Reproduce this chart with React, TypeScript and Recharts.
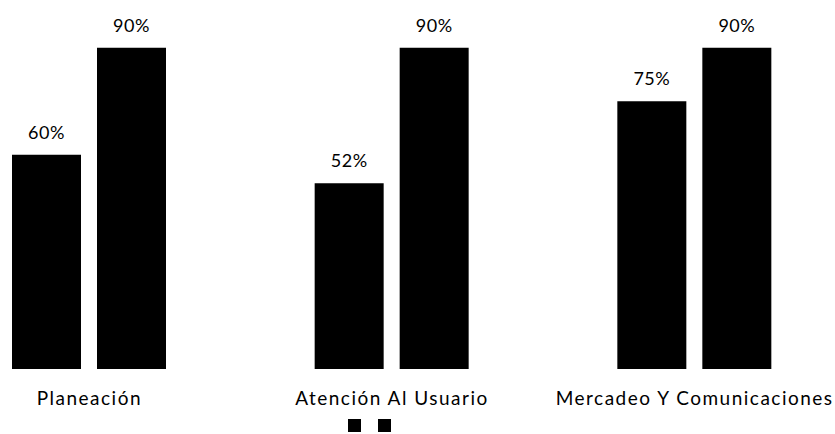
import { BarChart, Bar, XAxis, YAxis, Legend, LabelList } from 'recharts';

const categories = ['Planeación', 'Atención Al Usuario', 'Mercadeo Y Comunicaciones'];
const serieA = [60, 52, 75];
const serieB = [90, 90, 90];
const seriesNames = ['Serie 1', 'Serie 2'];

const data = categories.map((name, i) => ({ name, a: serieA[i], b: serieB[i] }));

const font = 'Lato, "Open Sans", sans-serif';

function LegendSquares({ payload }: any) {
  return (
    <div style={{ display: 'flex', gap: 17 }}>
      {(payload || []).map((p: any) => (
        <div key={p.value} style={{ width: 13, height: 13, background: p.color }} />
      ))}
    </div>
  );
}

export default function App() {
  return (
    <div style={{ position: 'fixed', left: 0, top: 0, width: 835, height: 434, overflow: 'hidden', background: '#fff' }}>
      <div style={{ marginLeft: -62 }}>
        <BarChart
          width={908}
          height={434}
          data={data}
          margin={{ top: 12, right: 0, bottom: 1, left: 0 }}
          barSize={69}
          barGap={16}
        >
          <XAxis
            dataKey="name"
            axisLine={false}
            tickLine={false}
            height={50}
            tickMargin={17}
            interval={0}
            tick={{ fill: '#000', fontSize: 19, fontFamily: font, letterSpacing: 1.5 }}
          />
          <YAxis hide domain={[0, 100]} />
          <Legend
            verticalAlign="bottom"
            content={<LegendSquares />}
            wrapperStyle={{ left: 410, width: 44, height: 14 }}
          />
          <Bar dataKey="a" name={seriesNames[0]} fill="#000" isAnimationActive={false}>
            <LabelList
              dataKey="a"
              position="top"
              offset={16}
              formatter={(v: any) => `${v}%`}
              style={{ fill: '#000', fontSize: 18, fontFamily: font, letterSpacing: 0.5 }}
            />
          </Bar>
          <Bar dataKey="b" name={seriesNames[1]} fill="#000" isAnimationActive={false}>
            <LabelList
              dataKey="b"
              position="top"
              offset={16}
              formatter={(v: any) => `${v}%`}
              style={{ fill: '#000', fontSize: 18, fontFamily: font, letterSpacing: 0.5 }}
            />
          </Bar>
        </BarChart>
      </div>
    </div>
  );
}
